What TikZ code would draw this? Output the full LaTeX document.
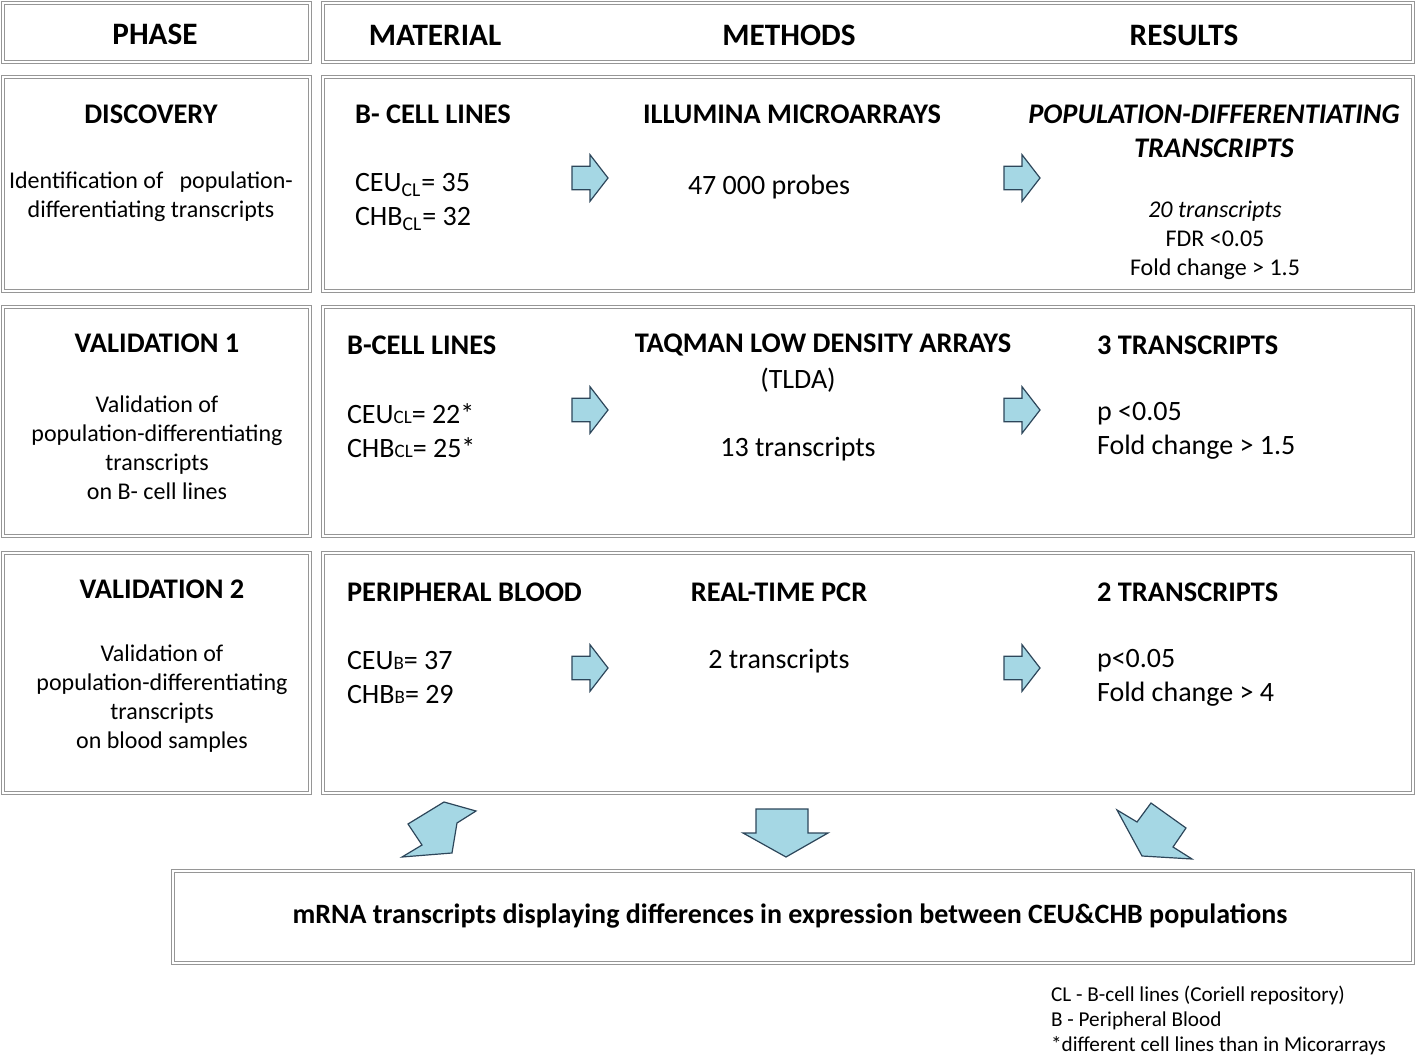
\documentclass[tikz,border=0pt]{standalone}
\usepackage{fontspec}
\setmainfont{Carlito}
\usetikzlibrary{positioning}
\definecolor{boxgray}{RGB}{150,150,150}
\definecolor{arrowfill}{RGB}{165,215,228}
\definecolor{arrowline}{RGB}{45,70,90}

\begin{document}
\begin{tikzpicture}[
        x=0.5pt, y=-0.5pt,
        % Styles
        frame/.style={draw=boxgray, double=white, double distance=0.8pt, line width=0.5pt},
        colhead/.style={font=\fontsize{15.6}{18}\selectfont\bfseries},
        title/.style={font=\fontsize{14.2}{17}\selectfont\bfseries},
        body/.style={font=\fontsize{14}{17}\selectfont, align=left},
        note/.style={font=\fontsize{12}{14.5}\selectfont, align=center},
        blockarrow/.style={draw=arrowline, fill=arrowfill, line width=0.6pt, line join=miter},
        rarr/.pic={\draw[blockarrow] (-18,-11.7) -- (0,-11.7) -- (0,-23.3) -- (18,0) -- (0,23.3) -- (0,11.7) -- (-18,11.7) -- cycle;}
    ]
        \useasboundingbox (0,0) rectangle (1418,1058);

        % Frames
        \draw[frame] (3,3) rectangle (310,62);
        \draw[frame] (323,3) rectangle (1413,62);
        \draw[frame] (3,77) rectangle (310,291);
        \draw[frame] (323,77) rectangle (1413,291);
        \draw[frame] (3,307) rectangle (310,536);
        \draw[frame] (323,307) rectangle (1413,536);
        \draw[frame] (3,553) rectangle (310,793);
        \draw[frame] (323,553) rectangle (1413,793);
        \draw[frame] (173,871) rectangle (1413,963);

        % Header
        \node[colhead] (phase) at (155,34) {PHASE};
        \node[colhead] (material) at (435,35) {MATERIAL};
        \node[colhead] (methods) at (789,35) {METHODS};
        \node[colhead] (results) at (1184,35) {RESULTS};

        % Discovery
        \node[title] (disc) at (151,114) {DISCOVERY};
        \node[note] (discnote) at (151,197) {Identification of\ \ \ population-\\differentiating transcripts};
        \node[title, anchor=west] (disccells) at (348,114) {B- CELL LINES};
        \node[body, anchor=west] (disccount) at (348,202) {CEU\textsubscript{CL}= 35\\CHB\textsubscript{CL}= 32};
        \node[title] (illumina) at (792,114) {ILLUMINA MICROARRAYS};
        \node[body] (probes) at (769,187) {47 000 probes};
        \node[title, font=\fontsize{14.2}{17}\selectfont\bfseries\itshape, align=center] (popdiff) at (1214,131) {POPULATION-DIFFERENTIATING\\TRANSCRIPTS};
        \node[note] (discres) at (1215,240) {\textit{20 transcripts}\\FDR <0.05\\Fold change > 1.5};
        \pic at (590,178) {rarr};
        \pic at (1022,178) {rarr};

        % Validation 1
        \node[title] (val1) at (157,343) {VALIDATION 1};
        \node[note] (val1note) at (157,448) {Validation of\\population-differentiating\\transcripts\\on B- cell lines};
        \node[title, anchor=west] (val1cells) at (340,345) {B-CELL LINES};
        \node[body, anchor=west] (val1count) at (340,431) {CEU{\fontsize{9.5}{9.5}\selectfont CL}= 22*\\CHB{\fontsize{9.5}{9.5}\selectfont CL}= 25*};
        \node[title] (tlda) at (823,345) {TAQMAN LOW DENSITY ARRAYS};
        \node[body] (tldaabbr) at (798,380) {(TLDA)};
        \node[body] (tldanum) at (798,449) {13 transcripts};
        \node[title, anchor=west] (val1res) at (1090,345) {3 TRANSCRIPTS};
        \node[body, anchor=west] (val1stat) at (1090,431) {p <0.05\\Fold change > 1.5};
        \pic at (590,410) {rarr};
        \pic at (1022,410) {rarr};

        % Validation 2
        \node[title] (val2) at (162,589) {VALIDATION 2};
        \node[note] (val2note) at (162,699) {Validation of\\population-differentiating\\transcripts\\on blood samples};
        \node[title, anchor=west] (blood) at (340,592) {PERIPHERAL BLOOD};
        \node[body, anchor=west] (val2count) at (340,678) {CEU{\fontsize{9.5}{9.5}\selectfont B}= 37\\CHB{\fontsize{9.5}{9.5}\selectfont B}= 29};
        \node[title] (pcr) at (779,592) {REAL-TIME PCR};
        \node[body] (pcrnum) at (779,661) {2 transcripts};
        \node[title, anchor=west] (val2res) at (1090,592) {2 TRANSCRIPTS};
        \node[body, anchor=west] (val2stat) at (1090,678) {p<0.05\\Fold change > 4};
        \pic at (590,668) {rarr};
        \pic at (1022,668) {rarr};

        % Arrows to conclusion
        \draw[blockarrow] (444,802) -- (476,811) -- (457,823) -- (452,853) -- (402,857) -- (422,845) -- (408,824) -- cycle;
        \draw[blockarrow] (756,809) -- (808,809) -- (808,833) -- (828,833) -- (786,857) -- (743,833) -- (756,833) -- cycle;
        \draw[blockarrow] (1117,810) -- (1137,822) -- (1151,803) -- (1186,828) -- (1173,847) -- (1192,859) -- (1142,856) -- cycle;

        % Conclusion
        \node[title, font=\fontsize{14}{16}\selectfont\bfseries] (concl) at (790,916) {mRNA transcripts displaying differences in expression between CEU\&CHB populations};

        % Legend
        \node[anchor=north west, align=left, font=\fontsize{10.6}{12.5}\selectfont] (legend) at (1044,979) {CL - B-cell lines\ (Coriell repository)\\B - Peripheral Blood\\*different cell lines than in Micorarrays};
\end{tikzpicture}
\end{document}
